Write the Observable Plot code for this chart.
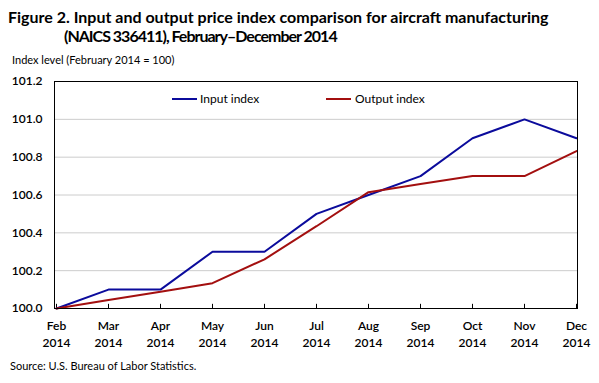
<!DOCTYPE html>
<html>
<head>
<meta charset="utf-8">
<script src="https://cdn.jsdelivr.net/npm/d3@7"></script>
<script src="https://cdn.jsdelivr.net/npm/@observablehq/plot@0.6"></script>
<style>
  body { margin: 0; background: #fff; font-family: Lato, "Open Sans", sans-serif; color: #000; }
  #wrap { position: relative; width: 599px; height: 383px; overflow: hidden; }
  .abs { position: absolute; white-space: nowrap; }
  .title { font-weight: bold; font-size: 16px; line-height: 19px; }
  .small { font-size: 12px; line-height: 14px; }
  .leg { position: absolute; height: 2px; width: 25px; }
</style>
</head>
<body>
<div id="wrap">
  <div class="abs title" style="left:8px; top:7px;">Figure 2. Input and output price index comparison for aircraft manufacturing</div>
  <div class="abs title" style="left:64px; top:26px; letter-spacing:-1px;">(NAICS 336411), February–December  2014</div>
  <div class="abs small" style="left:12px; top:53px; font-size:11px;">Index level (February  2014 = 100)</div>
  <div id="chart" class="abs" style="left:0; top:70px;"></div>
  <div class="abs small" id="leg1" style="left:200px; top:92px;"></div>
  <div class="leg" id="legl1" style="left:172px; top:98px;"></div>
  <div class="abs small" id="leg2" style="left:355px; top:92px;"></div>
  <div class="leg" id="legl2" style="left:326px; top:98px;"></div>
  <div class="abs small" style="left:10px; top:359px; font-size:11px;">Source: U.S. Bureau  of Labor Statistics.</div>
</div>
<script>
const months = ["Feb", "Mar", "Apr", "May", "Jun", "Jul", "Aug", "Sep", "Oct", "Nov", "Dec"];
const year = "2014";
const inputIndex = [100.0, 100.1, 100.1, 100.3, 100.3, 100.5, 100.6, 100.7, 100.9, 101.0, 100.9];
const outputIndex = [100.0, 100.045, 100.088, 100.134, 100.26, 100.435, 100.615, 100.658, 100.7, 100.7, 100.832];
const seriesNames = ["Input index", "Output index"];
const seriesColors = ["#0b0b9c", "#a30f0f"];
const yTicks = [100.0, 100.2, 100.4, 100.6, 100.8, 101.0, 101.2];
const gridTicks = [100.2, 100.4, 100.6, 100.8, 101.0];

const rows = [];
months.forEach((m, i) => {
  rows.push({month: m, value: inputIndex[i], series: seriesNames[0]});
  rows.push({month: m, value: outputIndex[i], series: seriesNames[1]});
});

const chart = Plot.plot({
  width: 599,
  height: 285,
  marginTop: 11,
  marginBottom: 47,
  marginLeft: 54,
  marginRight: 22,
  style: {fontFamily: "Lato, 'Open Sans', sans-serif", fontSize: "12px", color: "#000", background: "#fff"},
  x: {type: "point", domain: months, padding: 0},
  y: {domain: [100, 101.2]},
  color: {domain: seriesNames, range: seriesColors},
  marks: [
    Plot.gridY(gridTicks, {stroke: "#cccccc", strokeOpacity: 1, strokeWidth: 1}),
    Plot.ruleX(months, {x: d => d, y1: 100, y2: 100.022, stroke: "#000"}),
    Plot.axisY(yTicks, {tickSize: 0, tickPadding: 12, tickFormat: d3.format(".1f"), label: null, fontWeight: 600}),
    Plot.axisX({tickSize: 0, tickPadding: 10, tickFormat: d => d + "\n" + year, label: null, lineHeight: 1.4, fontWeight: 600}),
    Plot.line(rows, {x: "month", y: "value", z: "series", stroke: "series", strokeWidth: 2, strokeLinejoin: "miter"}),
    Plot.frame({stroke: "#000", strokeWidth: 1})
  ]
});
document.getElementById("chart").appendChild(chart);
document.getElementById("leg1").textContent = seriesNames[0];
document.getElementById("leg2").textContent = seriesNames[1];
document.getElementById("legl1").style.background = seriesColors[0];
document.getElementById("legl2").style.background = seriesColors[1];
</script>
</body>
</html>
